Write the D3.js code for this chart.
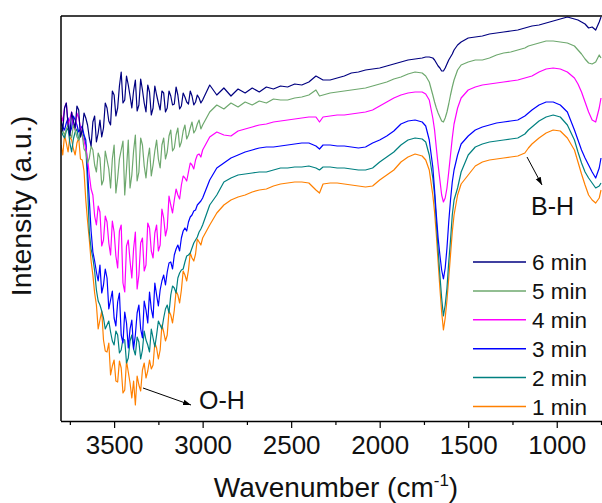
<!DOCTYPE html>
<html><head><meta charset="utf-8">
<script src="https://cdn.jsdelivr.net/npm/d3@7"></script>
<style>body{margin:0;background:#fff}svg{display:block}text{font-family:"Liberation Sans",Arial,sans-serif;fill:#111}</style>
</head><body><svg id="c" width="602" height="503"></svg>
<script>
const wavenumbers = [3800,3790,3780,3770,3760,3750,3740,3730,3720,3710,3700,3690,3680,3670,3660,3650,3640,3630,3620,3610,3600,3590,3580,3570,3560,3550,3540,3530,3520,3510,3500,3490,3480,3470,3460,3450,3440,3430,3420,3410,3400,3390,3380,3370,3360,3350,3340,3330,3320,3310,3300,3290,3280,3270,3260,3250,3240,3230,3220,3210,3200,3190,3180,3170,3160,3150,3140,3130,3120,3110,3100,3090,3080,3070,3060,3050,3040,3030,3020,3010,3000,
2960,2920,2880,2840,2800,2760,2720,2680,2640,2600,2560,2520,2480,2440,2400,2360,2340,2320,2280,2240,2200,2160,2120,2080,2040,2000,1960,1920,1880,1840,1800,1760,
1740,1720,1700,1690,1680,1670,1660,1650,1640,1630,1620,1610,1600,1590,1580,1560,1540,
1500,1460,1420,1380,1340,1300,1260,1220,1180,1160,1140,1100,1060,1020,980,940,900,880,860,840,820,800,780,760,750];

const min6 = [303,290,313,318,296,285,309,300,293,315,311,284,291,308,303,296,283,275,299,305,279,288,301,284,293,318,313,300,296,330,326,305,313,335,349,318,321,345,336,325,313,330,341,310,316,342,331,318,309,336,329,306,313,335,326,318,311,330,328,309,313,330,325,316,317,334,326,312,315,328,324,319,317,330,325,316,319,326,323,318,321,
336,326,333,325,332,328,333,329,334,332,335,334,337,336,339,345,343,341,341,343,345,348,349,351,352,353,355,357,359,361,362,363,
364,364,363,361,358,355,353,350,350,353,357,361,364,367,371,376,379,
383,384,385,387,388,389,390,391,393,394,395,396,398,400,402,404,402,401,399,397,393,394,391,399,404];
const min5 = [293,290,286,292,296,288,283,296,291,284,281,290,286,272,269,258,263,275,271,256,249,268,263,236,241,270,261,252,233,262,276,228,243,262,271,280,226,252,281,233,246,270,286,240,249,283,276,255,243,262,273,245,256,270,281,262,253,276,283,262,269,285,291,270,273,286,293,274,279,290,296,282,286,293,299,288,291,297,301,292,296,
309,316,312,318,314,319,316,320,318,322,321,321,323,324,326,331,325,326,328,329,330,331,332,333,335,337,339,342,344,347,349,348,
345,339,326,319,313,308,304,300,299,303,309,317,326,334,341,351,356,
359,361,361,363,366,368,369,371,373,375,376,378,380,380,379,378,375,371,367,362,358,357,359,366,363];
const min4 = [306,300,313,318,296,302,309,296,291,308,303,294,286,280,273,262,246,232,226,205,196,215,209,175,181,205,199,178,166,200,189,165,153,190,196,138,129,175,181,160,143,172,189,132,146,178,183,150,156,198,193,170,163,188,196,170,176,212,203,185,193,225,216,208,221,232,226,222,236,245,243,240,249,258,256,252,261,266,267,264,271,
284,289,286,285,290,292,294,296,297,299,300,301,302,303,304,304,299,304,305,306,306,307,308,309,311,315,319,323,326,328,329,329,
327,321,303,291,273,256,241,226,219,223,233,249,266,283,297,313,323,
331,334,336,337,338,339,340,341,343,344,345,349,352,353,352,349,343,337,329,319,309,301,299,313,323];
const min3 = [299,294,291,298,303,288,293,305,301,296,289,292,295,286,281,250,221,190,169,160,149,140,156,128,136,152,143,112,121,130,103,95,119,128,86,78,109,98,73,92,101,72,86,108,116,92,83,120,111,98,129,112,103,138,126,115,131,140,146,136,149,158,159,152,166,172,176,170,183,190,193,190,199,204,206,210,211,216,218,220,223,
241,253,258,263,266,269,271,273,274,274,275,276,277,278,278,275,272,276,276,275,275,274,273,274,278,281,285,290,297,300,301,299,
295,281,254,231,206,183,166,151,142,153,173,199,221,239,251,266,277,
285,291,294,296,298,299,300,301,305,308,311,316,319,319,316,309,291,281,271,263,256,249,243,253,263];
const min2 = [291,286,283,290,293,278,269,282,289,292,281,286,291,284,276,235,189,172,163,150,131,120,116,110,103,92,96,100,89,80,76,90,86,68,71,82,81,58,63,80,86,72,66,84,79,62,71,90,81,76,69,92,83,74,86,100,96,92,103,112,116,108,126,135,133,128,143,148,151,152,159,165,166,168,173,178,181,184,189,192,196,
216,226,239,243,246,247,248,249,249,251,253,253,254,254,255,253,251,254,254,253,253,252,251,251,253,259,264,269,276,281,283,282,
279,266,243,226,199,171,146,123,105,116,133,159,181,206,221,233,249,
266,274,277,279,280,281,282,283,287,291,294,300,304,306,304,296,281,269,258,249,243,238,233,235,238];
const min1 = [276,266,286,278,269,284,281,272,266,278,283,262,261,250,221,200,181,160,146,128,116,92,101,110,81,70,69,78,46,55,61,40,39,60,53,28,31,60,49,38,23,40,16,45,36,30,51,58,43,50,61,52,56,78,73,62,71,96,89,80,86,110,106,98,111,130,126,118,131,150,146,140,151,168,163,160,167,182,179,176,183,
196,208,216,221,224,226,229,231,232,235,237,238,239,239,238,231,228,237,238,238,237,236,235,234,235,241,246,251,259,264,267,265,
261,251,226,209,186,159,133,109,91,103,121,143,166,189,206,226,237,
246,255,259,261,262,263,264,265,268,273,277,283,288,291,290,283,271,259,247,236,226,221,218,223,231];

const seriesNames = ["6 min","5 min","4 min","3 min","2 min","1 min"];
const seriesValues = [min6,min5,min4,min3,min2,min1];
const seriesColors = ["#000080","#6ea86e","#ff00ff","#0000ff","#008080","#ff8000"];
const majorTicks = [3500,3000,2500,2000,1500,1000];
const minorTicks = [3750,3250,2750,2250,1750,1250,750];

const svg = d3.select("#c");
const L=61, R=601, T=16, B=421;
const x = d3.scaleLinear().domain([3800,750]).range([L,R]);
const y = d3.scaleLinear().domain([0,405]).range([B,T]);

svg.append("defs").append("clipPath").attr("id","clip")
  .append("rect").attr("x",L).attr("y",T).attr("width",R-L+1).attr("height",B-T);

const line = d3.line().x((d,i)=>x(wavenumbers[i])).y(d=>y(d));
const g = svg.append("g").attr("clip-path","url(#clip)");
for (let k=seriesValues.length-1;k>=0;k--){
  g.append("path").datum(seriesValues[k]).attr("d",line)
   .attr("fill","none").attr("stroke",seriesColors[k]).attr("stroke-width",1.2)
   .attr("stroke-linejoin","round");
}

// frame
svg.append("line").attr("x1",L).attr("x2",L).attr("y1",T).attr("y2",B).attr("stroke","#000").attr("stroke-width",1.5);
svg.append("line").attr("x1",L).attr("x2",602).attr("y1",T).attr("y2",T).attr("stroke","#000").attr("stroke-width",1.5);

const ax = svg.append("g").attr("transform",`translate(0,${B})`)
  .call(d3.axisBottom(x).tickValues(majorTicks).tickFormat(d3.format("d")).tickSize(7).tickSizeOuter(0).tickPadding(8));
ax.select(".domain").attr("stroke","#000").attr("stroke-width",1.5).attr("d",`M${L},0.5H602`);
ax.selectAll(".tick line").attr("stroke","#000").attr("stroke-width",1.2);
ax.selectAll("text").attr("font-size",26).attr("fill","#111").attr("font-family","Liberation Sans, Arial, sans-serif");
const axm = svg.append("g").attr("transform",`translate(0,${B})`)
  .call(d3.axisBottom(x).tickValues(minorTicks).tickFormat("").tickSize(4).tickSizeOuter(0));
axm.select(".domain").remove();
axm.selectAll(".tick line").attr("stroke","#000").attr("stroke-width",1.2);

// titles
const xt = svg.append("text").attr("x",336).attr("y",497).attr("text-anchor","middle").attr("font-size",28);
xt.append("tspan").text("Wavenumber (cm");
xt.append("tspan").attr("font-size",17).attr("dy",-11).text("-1");
xt.append("tspan").attr("dy",11).text(")");
svg.append("text").attr("transform","translate(31,206) rotate(-90)").attr("text-anchor","middle").attr("font-size",28.5).text("Intensity (a.u.)");

// legend
const legY0 = 262, legDy = 28.9;
seriesNames.forEach((n,i)=>{
  const yy = legY0 + i*legDy;
  svg.append("line").attr("x1",473).attr("x2",526).attr("y1",yy).attr("y2",yy).attr("stroke",seriesColors[i]).attr("stroke-width",1.5);
  svg.append("text").attr("x",532).attr("y",yy+8).attr("font-size",22.5).text(n);
});

// annotations
svg.append("defs").append("marker").attr("id","ah").attr("viewBox","0 0 10 10").attr("refX",10).attr("refY",5)
  .attr("markerWidth",8).attr("markerHeight",8).attr("orient","auto").attr("markerUnits","userSpaceOnUse")
  .append("path").attr("d","M0,1.5L10,5L0,8.5Z").attr("fill","#000");
svg.append("line").attr("x1",143).attr("y1",388).attr("x2",191).attr("y2",405).attr("stroke","#000").attr("stroke-width",1).attr("marker-end","url(#ah)");
svg.append("text").attr("x",199).attr("y",409).attr("font-size",25).text("O-H");
svg.append("line").attr("x1",527).attr("y1",157).attr("x2",542).attr("y2",185).attr("stroke","#000").attr("stroke-width",1).attr("marker-end","url(#ah)");
svg.append("text").attr("x",531).attr("y",215).attr("font-size",25).text("B-H");
</script></body></html>
